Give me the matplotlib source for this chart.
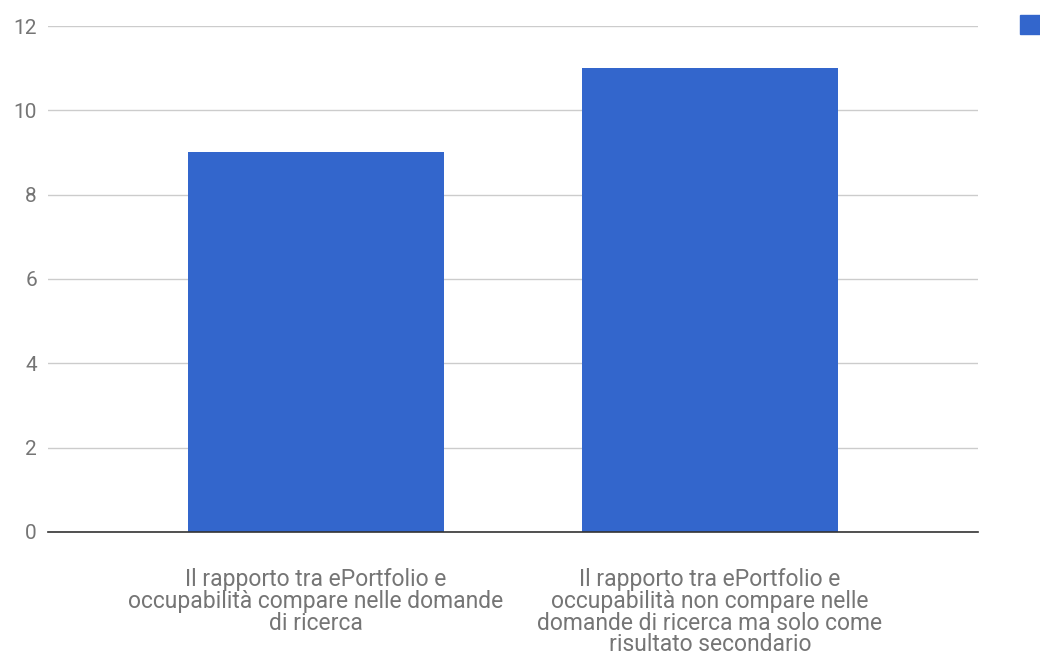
import matplotlib.pyplot as plt
from matplotlib.patches import Patch

categories = [
    "Il rapporto tra ePortfolio e\noccupabilità compare nelle domande\ndi ricerca",
    "Il rapporto tra ePortfolio e\noccupabilità non compare nelle\ndomande di ricerca ma solo come\nrisultato secondario",
]
values = [9, 11]
yticks = [0, 2, 4, 6, 8, 10, 12]

bar_color = "#3366cc"
text_color = "#757575"

plt.rcParams['font.family'] = ['Roboto', 'DejaVu Sans']

fig = plt.figure(figsize=(10.4, 6.6), dpi=100)
ax = fig.add_axes([0.0462, 0.194, 0.894, 0.7666])

x = range(len(categories))
ax.bar(x, values, width=0.65, color=bar_color, zorder=3)

ax.set_xlim(-0.68, 1.68)
ax.set_ylim(0, 12)
ax.set_yticks(yticks)
ax.set_xticks(list(x))
ax.set_xticklabels(categories, fontsize=16.5, color=text_color, linespacing=0.93)
ax.tick_params(axis='y', labelsize=15, labelcolor=text_color, length=0, pad=8)
ax.tick_params(axis='x', length=0, pad=26)

ax.grid(axis='y', color='#cccccc', linewidth=1, zorder=0)
for s in ['top', 'right', 'left']:
    ax.spines[s].set_visible(False)
ax.spines['bottom'].set_color('#333333')
ax.spines['bottom'].set_linewidth(1.2)
ax.spines['bottom'].set_zorder(4)

# legend marker (label is cut off at the right edge in the original)
fig.legend(handles=[Patch(color=bar_color, label=' ')], loc='upper left',
           bbox_to_anchor=(0.981, 0.977), frameon=False, handlelength=1.3,
           handleheight=1.3, borderpad=0, borderaxespad=0, handletextpad=0.5,
           fontsize=12.5)

fig.savefig("out.png", dpi=100)
